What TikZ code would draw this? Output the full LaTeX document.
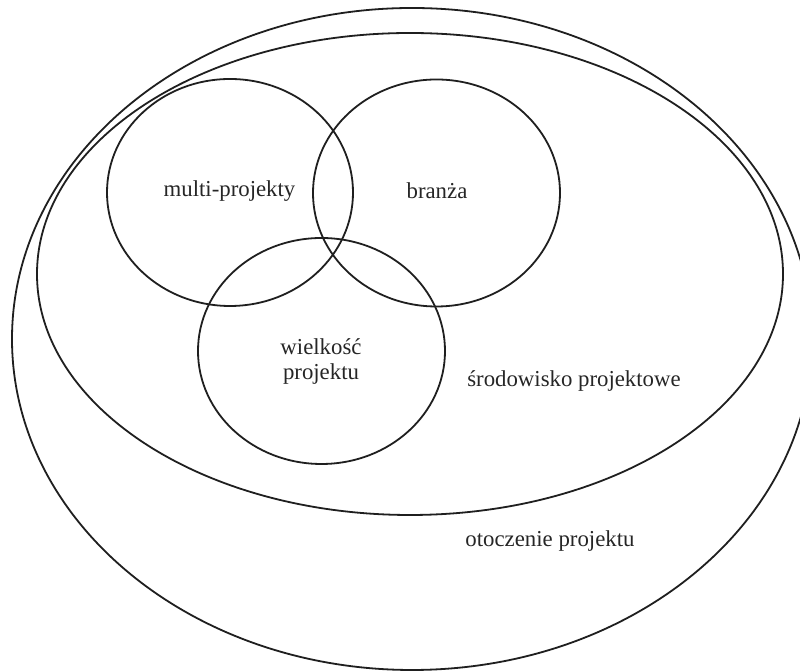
\documentclass[tikz,border=0pt]{standalone}
\usepackage{fontspec}
\setmainfont{Liberation Serif}
\begin{document}
\begin{tikzpicture}[x=0.5pt,y=-0.5pt,
  ring/.style={draw=black!88, line width=0.9pt},
  lbl/.style={font=\fontsize{11.4}{13}\selectfont, text=black!85, inner sep=0pt, align=center}]
\useasboundingbox (0,0) rectangle (800,672);
\fill[white] (0,0) rectangle (800,672);
\clip (0,0) rectangle (800,672);
% centres
\coordinate (otocz) at (412,339);
\coordinate (srod) at (410,274);
\coordinate (multi) at (230,192.5);
\coordinate (branza) at (436.5,193);
\coordinate (wielk) at (321.5,351);
% shapes
\draw[ring] (otocz) ellipse [x radius=400, y radius=331];
\draw[ring] (srod) ellipse [x radius=373, y radius=241];
\draw[ring] (multi) ellipse [x radius=123, y radius=113.5];
\draw[ring] (branza) ellipse [x radius=123.5, y radius=113.5];
\draw[ring] (wielk) ellipse [x radius=123.5, y radius=113];
% labels
\node[lbl] (lmulti) at (229.5,191) {multi-projekty};
\node[lbl] (lbranza) at (437,191) {branża};
\node[lbl] (lwielk) at (321,362) {wielkość\\[-0.5pt]projektu};
\node[lbl] (lsrod) at (574,381) {środowisko projektowe};
\node[lbl] (lotocz) at (550,541) {otoczenie projektu};
\end{tikzpicture}
\end{document}
